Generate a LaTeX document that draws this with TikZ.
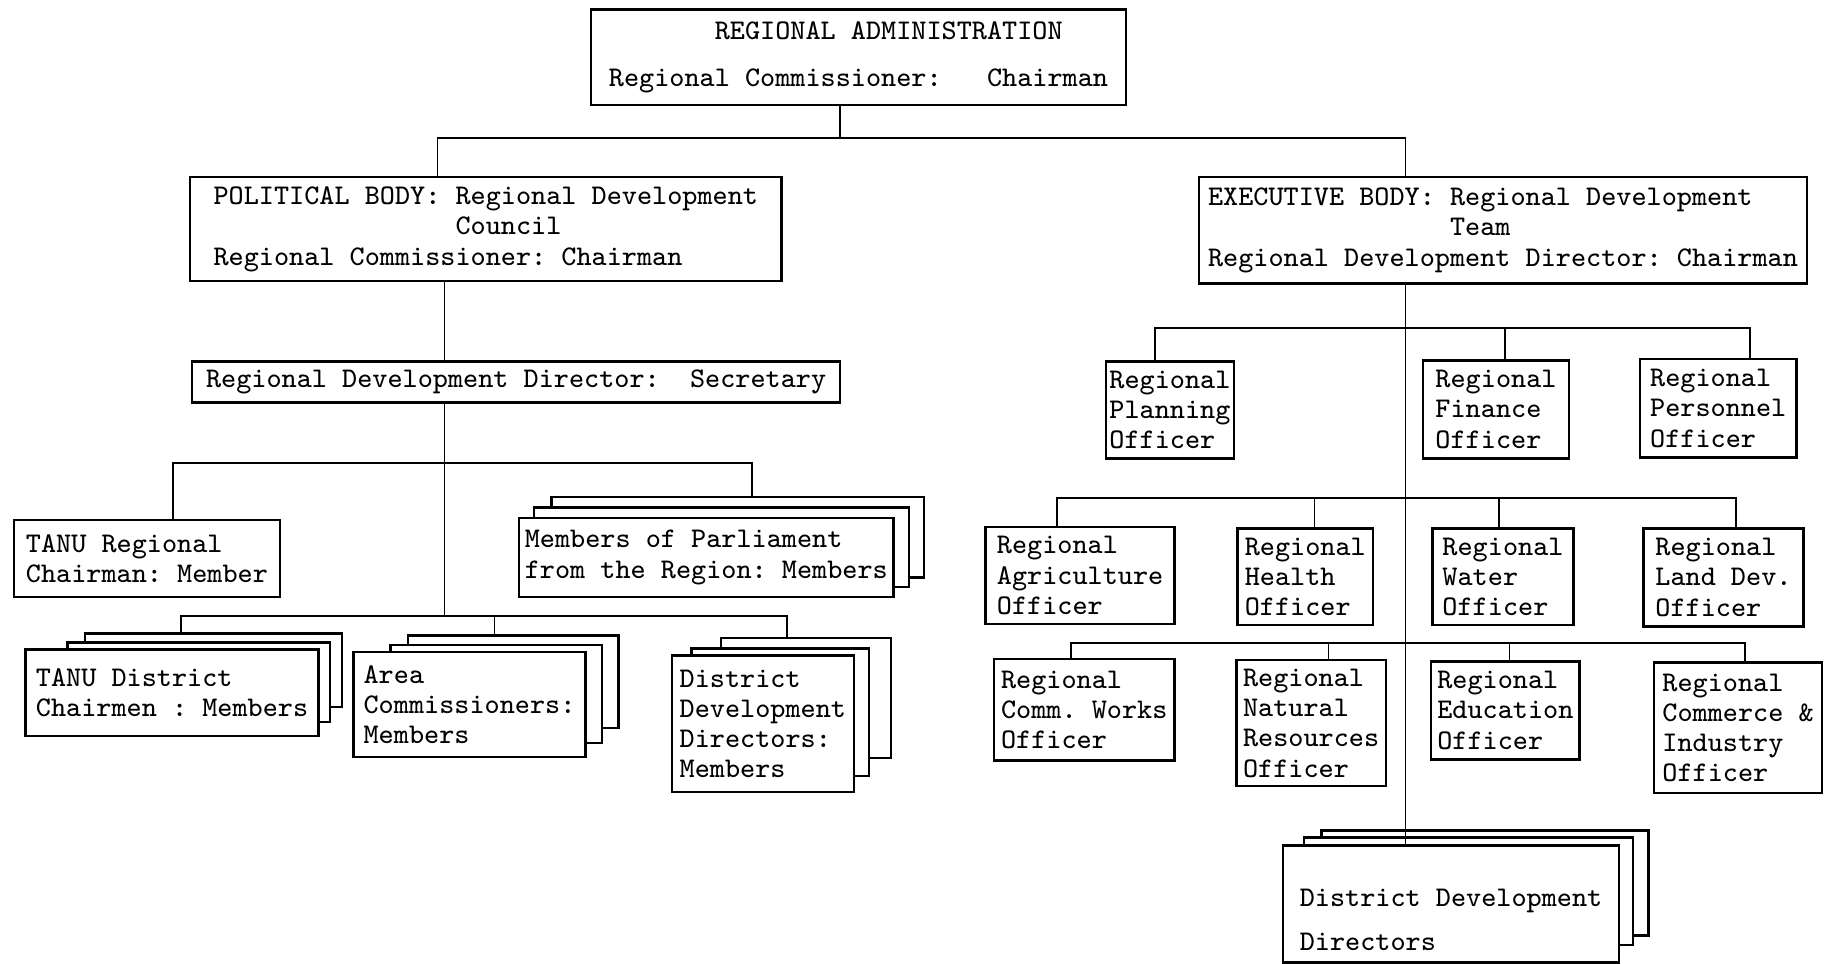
\documentclass[tikz,border=0pt]{standalone}

\begin{document}
\begin{tikzpicture}[x=0.011665cm, y=-0.011665cm,
    box/.style={draw, line width=0.7pt, fill=white, align=left,
                inner xsep=1pt, inner ysep=0pt,
                font=\ttfamily\fontsize{8.1}{8.6}\selectfont\frenchspacing},
    sheet/.style={draw, line width=0.7pt, fill=white, inner sep=0pt},
    sz/.style 2 args={minimum width=#1*0.3319pt, minimum height=#2*0.3319pt},
    link/.style={line width=0.5pt}
  ]
  \useasboundingbox (0,0) rectangle (1568,826);

  % top level
  \node[box, sz={458}{82}] (admin) at (736,49)
    {\phantom{1234567}REGIONAL ADMINISTRATION\\[4.7pt]Regional Commissioner:\ \ \ Chairman};
  \node[box, sz={507}{89}] (political) at (416.5,196.5)
    {POLITICAL BODY: Regional Development\\\phantom{1234567890123456}Council\\Regional Commissioner: Chairman};
  \node[box, sz={521}{91}] (executive) at (1288.5,197.5)
    {EXECUTIVE BODY: Regional Development\\\phantom{1234567890123456}Team\\Regional Development Director: Chairman};

  % political side
  \node[box, sz={555}{35}] (secretary) at (442.5,327.5)
    {Regional Development Director:\ \ Secretary};
  \node[box, sz={228}{66}] (tanuReg) at (126,479) {TANU Regional\\Chairman: Member};

  \node[sheet, sz={319}{69}] (mp3) at (632.5,460.5) {};
  \node[sheet, sz={321}{68}] (mp2) at (618.5,469) {};
  \node[box, sz={321}{68}] (mp) at (605.5,478) {Members of Parliament\\from the Region: Members};

  \node[sheet, sz={220}{63}] (tanuDist3) at (183,574.5) {};
  \node[sheet, sz={225}{68}] (tanuDist2) at (170.5,585) {};
  \node[box, sz={251}{74}] (tanuDist) at (147.5,594) {TANU District\\Chairmen : Members};

  \node[sheet, sz={180}{79}] (area3) at (440,584.5) {};
  \node[sheet, sz={181}{84}] (area2) at (425.5,595) {};
  \node[box, sz={199}{90}] (area) at (402.5,604) {Area\\Commissioners:\\Members};

  \node[sheet, sz={146}{103}] (ddd3) at (691,598.5) {};
  \node[sheet, sz={152}{109}] (ddd2) at (669,610.5) {};
  \node[box, sz={156}{117}] (ddd) at (654,620.5) {District\\Development\\Directors:\\Members};

  % executive side
  \node[box, sz={110}{83}] (planning) at (1003,351.5) {Regional\\Planning\\Officer};
  \node[box, sz={125}{84}] (finance) at (1282.5,351) {Regional\\Finance\\Officer};
  \node[box, sz={134}{84}] (personnel) at (1473,350) {Regional\\Personnel\\Officer};

  \node[box, sz={162}{83}] (agri) at (926,493.5) {Regional\\Agriculture\\Officer};
  \node[box, sz={116}{83}] (health) at (1119,494.5) {Regional\\Health\\Officer};
  \node[box, sz={121}{83}] (water) at (1288.5,494.5) {Regional\\Water\\Officer};
  \node[box, sz={137}{84}] (land) at (1477.5,495) {Regional\\Land Dev.\\Officer};

  \node[box, sz={155}{87}] (works) at (929.5,608.5) {Regional\\Comm. Works\\Officer};
  \node[box, sz={128}{108}] (natres) at (1124,620) {Regional\\Natural\\Resources\\Officer};
  \node[box, sz={127}{84}] (educ) at (1290.5,609) {Regional\\Education\\Officer};
  \node[box, sz={144}{112}] (commerce) at (1490,624) {Regional\\Commerce \&\\Industry\\Officer};

  \node[sheet, sz={280}{90}] (dddR3) at (1273,757) {};
  \node[sheet, sz={282}{92}] (dddR2) at (1259,764) {};
  \node[box, sz={288}{100}] (dddR) at (1244,775)
    {\rule{0pt}{14pt}District Development\\[4pt]Directors};

  % junctions
  \coordinate (adminJ) at (720,118);
  \coordinate (polJ) at (375,118);
  \coordinate (exeJ) at (1205,118);
  \coordinate (councilL) at (148,397);
  \coordinate (councilR) at (645,397);
  \coordinate (secJ) at (381,528);
  \coordinate (distL) at (155,528);
  \coordinate (distM) at (424,528);
  \coordinate (distR) at (675,528);
  \coordinate (rowAL) at (990,281);
  \coordinate (rowAM) at (1290,281);
  \coordinate (rowAR) at (1500,281);
  \coordinate (rowBL) at (906,427);
  \coordinate (rowB2) at (1127,427);
  \coordinate (rowB3) at (1285,427);
  \coordinate (rowBR) at (1488,427);
  \coordinate (rowCL) at (918,551);
  \coordinate (rowC2) at (1139,551);
  \coordinate (rowC3) at (1294,551);
  \coordinate (rowCR) at (1496,551);

  % connectors
  \draw[link] (admin.south -| adminJ) -- (adminJ);
  \draw[link] (political.north -| polJ) -- (polJ) -- (exeJ) -- (executive.north -| exeJ);
  \draw[link] (political.south -| secJ) -- (secretary.north -| secJ);
  \draw[link] (secretary.south -| secJ) -- (secJ);
  \draw[link] (tanuReg.north -| councilL) -- (councilL) -- (councilR) -- (mp3.north -| councilR);
  \draw[link] (tanuDist3.north -| distL) -- (distL) -- (distR) -- (ddd3.north -| distR);
  \draw[link] (distM) -- (area3.north -| distM);

  \draw[link] (executive.south -| exeJ) -- (dddR.north -| exeJ);
  \draw[link] (planning.north -| rowAL) -- (rowAL) -- (rowAR) -- (personnel.north -| rowAR);
  \draw[link] (rowAM) -- (finance.north -| rowAM);
  \draw[link] (agri.north -| rowBL) -- (rowBL) -- (rowBR) -- (land.north -| rowBR);
  \draw[link] (rowB2) -- (health.north -| rowB2);
  \draw[link] (rowB3) -- (water.north -| rowB3);
  \draw[link] (works.north -| rowCL) -- (rowCL) -- (rowCR) -- (commerce.north -| rowCR);
  \draw[link] (rowC2) -- (natres.north -| rowC2);
  \draw[link] (rowC3) -- (educ.north -| rowC3);
\end{tikzpicture}
\end{document}
